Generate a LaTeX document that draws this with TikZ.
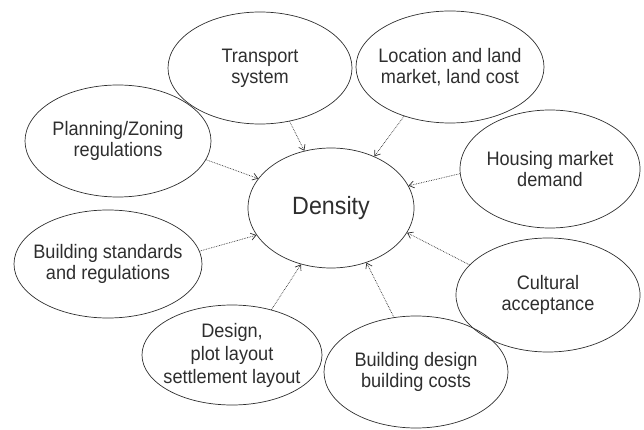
\documentclass[tikz,border=0pt]{standalone}
\usepackage{fontspec}
\setmainfont{Liberation Sans}[FakeStretch=0.93]
\usetikzlibrary{shapes.geometric,arrows.meta}
\definecolor{ink}{HTML}{2E2E2E}
\begin{document}
\begin{tikzpicture}[x=1pt,y=-1pt,
  factor/.style={draw=ink, line width=0.7pt, ellipse, inner xsep=-16pt, inner ysep=0pt,
    text=ink, align=center, font=\fontsize{19.5}{21}\selectfont},
  link/.style={draw=ink, line width=0.7pt, densely dotted,
    -{Straight Barb[length=5pt,width=7pt]}}]
\useasboundingbox (0,0) rectangle (644,430);

% central node
\node[factor, minimum width=166pt, minimum height=120pt,
      font=\fontsize{25}{28}\selectfont] (density) at (331,208) {Density};

% influencing factors
\node[factor, minimum width=184pt, minimum height=112pt] (transport) at (260,68) {Transport\\system};
\node[factor, minimum width=188pt, minimum height=112pt] (location) at (450,67) {Location and land\\market, land cost};
\node[factor, minimum width=180pt, minimum height=118pt] (housing) at (550,169) {Housing market\\demand};
\node[factor, minimum width=186pt, minimum height=112pt] (planning) at (118,141) {Planning/Zoning\\regulations};
\node[factor, minimum width=188pt, minimum height=108pt] (standards) at (108,264) {Building standards\\and regulations};
\node[factor, minimum width=180pt, minimum height=100pt, font=\fontsize{19.5}{23}\selectfont] (design) at (232,355) {Design,\\plot layout\\settlement layout};
\node[factor, minimum width=184pt, minimum height=112pt] (building) at (416,372) {Building design\\building costs};
\node[factor, minimum width=184pt, minimum height=114pt] (cultural) at (548,295) {Cultural\\acceptance};

% dotted influence arrows
\draw[link] (transport.299) -- (density.115);
\draw[link] (location.227) -- (density.50);
\draw[link] (planning.348) -- (density.158);
\draw[link] (housing.183) -- (density.16);
\draw[link] (standards.8) -- (density.200);
\draw[link] (design.49) -- (density.242);
\draw[link] (building.112) -- (density.303);
\draw[link] (cultural.159) -- (density.342);
\end{tikzpicture}
\end{document}
